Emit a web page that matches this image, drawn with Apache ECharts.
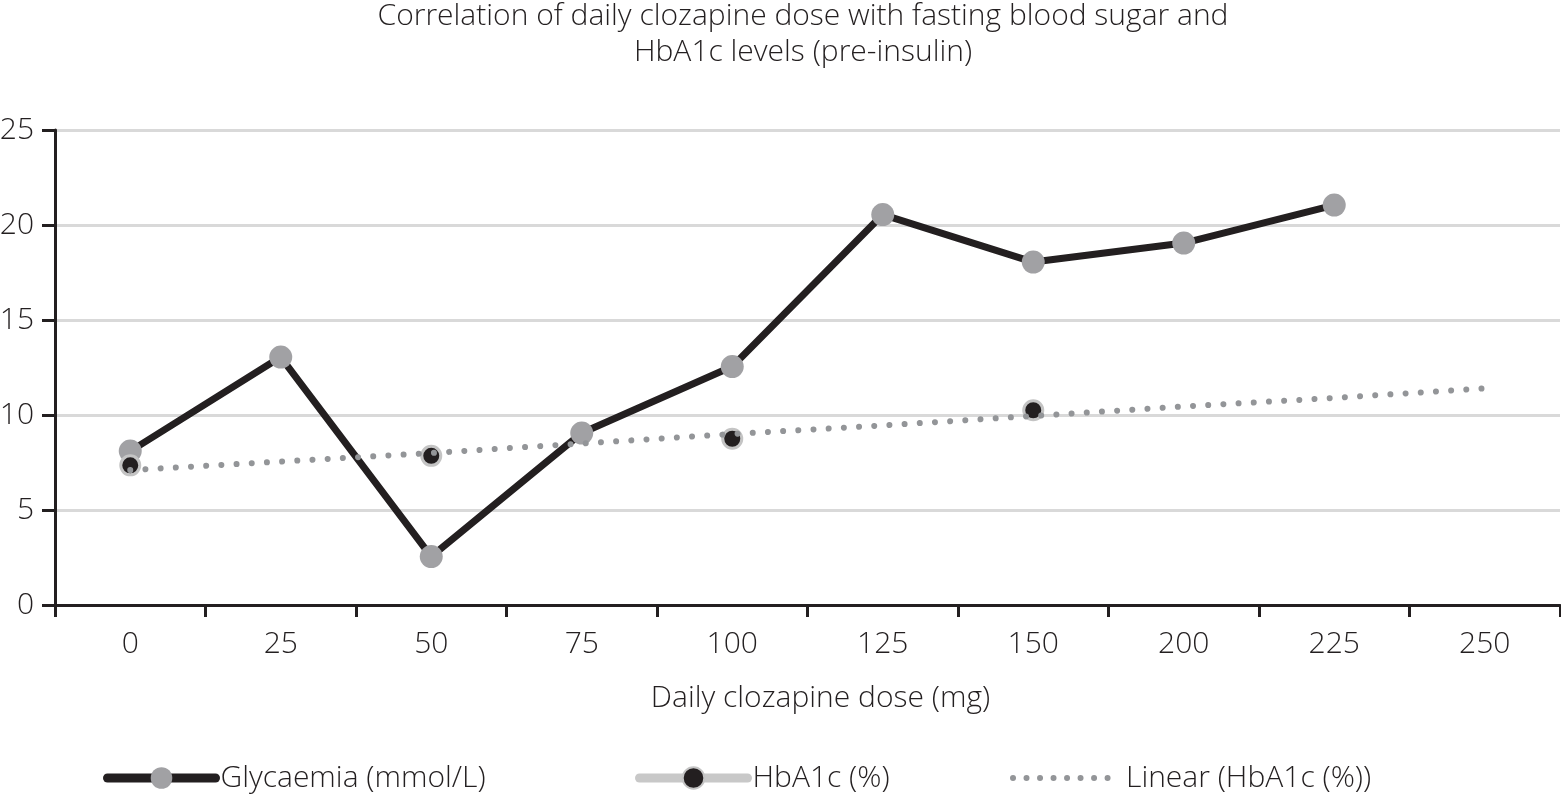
<!DOCTYPE html>
<html>
<head>
<meta charset="utf-8">
<script src="https://cdn.jsdelivr.net/npm/echarts@6/dist/echarts.min.js"></script>
<style>
html,body{margin:0;padding:0;background:#fff;}
#chart{width:1561px;height:795px;}
</style>
</head>
<body>
<div id="chart"></div>
<script>
var categories = ['0', '25', '50', '75', '100', '125', '150', '200', '225', '250'];
var glycaemia = [8.1, 13.05, 2.55, 9.05, 12.55, 20.55, 18.05, 19.05, 21.05, null];
var hba1c = [7.35, null, 7.85, null, 8.75, null, 10.25, null, null, null];
var linearHba1c = [7.1, 7.55, 8.0, 8.5, 9.0, 9.45, 9.95, 10.45, 10.9, 11.4];
var yTicks = [0, 5, 10, 15, 20, 25];

var FONT = '"Open Sans", "Noto Sans", sans-serif';
var INK = '#231f20';
var FS = 30;

var chart = echarts.init(document.getElementById('chart'));
var legendCommon = {
  bottom: 2,
  padding: 0,
  itemWidth: 108,
  itemHeight: 27,
  itemGap: 0,
  textStyle: {fontFamily: FONT, fontSize: FS, fontWeight: 300, color: INK, padding: [0, 0, 0, 0]},
  selectedMode: false
};
chart.setOption({
  animation: false,
  title: {
    text: 'Correlation of daily clozapine dose with fasting blood sugar and\nHbA1c levels (pre-insulin)',
    left: 803,
    textAlign: 'center',
    top: -2,
    padding: 0,
    textStyle: {fontFamily: FONT, fontSize: FS, fontWeight: 300, color: INK, lineHeight: 36}
  },
  legend: [
    Object.assign({}, legendCommon, {left: 103, data: [{name: 'Glycaemia (mmol/L)', lineStyle: {width: 9, cap: 'round'}}]}),
    Object.assign({}, legendCommon, {left: 635, data: [{name: 'HbA1c (%)', lineStyle: {width: 9, cap: 'round'}}]}),
    Object.assign({}, legendCommon, {left: 1010, data: [{name: 'Linear (HbA1c (%))', itemStyle: {opacity: 0}, lineStyle: {width: 6, type: [0.01, 13.5], cap: 'round'}}]})
  ],
  grid: {left: 55, right: 1, top: 130, bottom: 190, containLabel: false, outerBoundsMode: 'none'},
  xAxis: {
    type: 'category',
    data: categories,
    boundaryGap: true,
    name: 'Daily clozapine dose (mg)',
    nameLocation: 'middle',
    nameGap: 78,
    nameTextStyle: {fontFamily: FONT, fontSize: FS, fontWeight: 300, color: INK, padding: [0, 0, 0, 26]},
    axisLine: {lineStyle: {color: INK, width: 3}},
    axisTick: {show: true, alignWithLabel: false, length: 12, lineStyle: {color: INK, width: 3}},
    axisLabel: {fontFamily: FONT, fontSize: FS, fontWeight: 300, color: INK, margin: 24},
    splitLine: {show: false}
  },
  yAxis: {
    type: 'value',
    min: 0,
    max: 25,
    interval: 5,
    axisLine: {show: true, lineStyle: {color: INK, width: 3}},
    axisTick: {show: true, length: 13, lineStyle: {color: INK, width: 3}},
    axisLabel: {fontFamily: FONT, fontSize: FS, fontWeight: 300, color: INK, margin: 21,
      formatter: function (v) { return yTicks.indexOf(v) >= 0 ? String(v) : ''; }},
    splitLine: {show: true, lineStyle: {color: '#d9d9d9', width: 3}}
  },
  series: [
    {
      name: 'Glycaemia (mmol/L)',
      type: 'line',
      data: glycaemia,
      symbol: 'circle',
      symbolSize: 23,
      lineStyle: {color: INK, width: 7},
      itemStyle: {color: '#a1a1a4', borderWidth: 0},
      z: 2
    },
    {
      name: 'HbA1c (%)',
      type: 'line',
      data: hba1c,
      connectNulls: false,
      symbol: 'circle',
      symbolSize: 19,
      lineStyle: {color: '#c8c8c8', width: 7},
      itemStyle: {color: INK, borderColor: '#c4c4c4', borderWidth: 3},
      z: 3
    },
    {
      name: 'Linear (HbA1c (%))',
      type: 'line',
      data: linearHba1c,
      symbol: 'none',
      lineStyle: {color: '#939598', width: 6, type: [0.01, 15.2], cap: 'round'},
      z: 4
    }
  ]
});
</script>
</body>
</html>
